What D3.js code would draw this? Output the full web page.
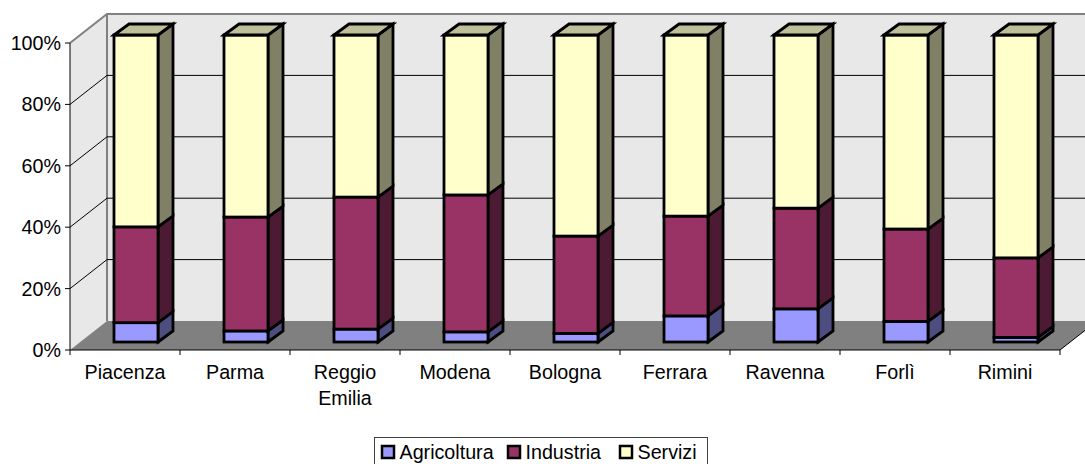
<!DOCTYPE html>
<html>
<head>
<meta charset="utf-8">
<script src="https://d3js.org/d3.v7.min.js"></script>
<style>
html, body { margin: 0; padding: 0; background: #fff; overflow: hidden; }
svg { display: block; }
text { font-family: "Liberation Sans", Arial, sans-serif; font-size: 19.7px; fill: #000; }
</style>
</head>
<body>
<svg id="chart" width="1085" height="464"></svg>
<script>
var CATEGORIES = ["Piacenza", "Parma", "Reggio Emilia", "Modena", "Bologna", "Ferrara", "Ravenna", "Forlì", "Rimini"];
var AGRICOLTURA = [6.3, 3.6, 4.2, 3.3, 2.8, 8.5, 10.8, 6.7, 1.5];
var INDUSTRIA = [31.2, 37.1, 43.0, 44.6, 31.7, 32.5, 32.8, 30.1, 25.9];
var SERVIZI = [62.5, 59.3, 52.8, 52.1, 65.5, 59.0, 56.4, 63.2, 72.6];
var SERIES = ["Agricoltura", "Industria", "Servizi"];
var TICKS = [0, 20, 40, 60, 80, 100];

var FRONT = { "Agricoltura": "#9999ff", "Industria": "#993366", "Servizi": "#ffffcc" };
var SIDE = { "Agricoltura": "#4d4d80", "Industria": "#4d1a33", "Servizi": "#808066" };
var TOP = "#bfbf99";

var svg = d3.select("#chart");

// front plane of the 3d box
var left = 70, right = 1060, top0 = 43, bottom = 350;
// depth of the box, and how far the bars sit inside it
var depthX = 37, depthY = 29;
var barDX = 11, barDY = 8, sideDX = 15, sideDY = 11;

var x = d3.scaleBand().domain(CATEGORIES).range([left, right]).paddingInner(0.6).paddingOuter(0.3);
var y = d3.scaleLinear().domain([0, 100]).range([bottom, top0]);

function pts(a) {
    return a.map(function(p) { return p.join(","); }).join(" ");
}

var wall = svg.append("g");
// side wall
wall.append("polygon")
    .attr("points", pts([[left, y(100)], [left + depthX, y(100) - depthY], [left + depthX, bottom - depthY], [left, bottom]]))
    .attr("fill", "#e8e8e8");
// back wall
wall.append("rect")
    .attr("x", left + depthX).attr("y", y(100) - depthY)
    .attr("width", 1085 - left - depthX).attr("height", bottom - y(100))
    .attr("fill", "#e8e8e8");
// floor
wall.append("polygon")
    .attr("points", pts([[left, bottom], [right, bottom], [right + depthX, bottom - depthY], [left + depthX, bottom - depthY]]))
    .attr("fill", "#808080");

// gray wall edges
wall.append("path")
    .attr("d", "M" + left + "," + y(100) + "L" + (left + depthX) + "," + (y(100) - depthY) + "H1085")
    .attr("fill", "none").attr("stroke", "#808080").attr("stroke-width", 2);
wall.append("line")
    .attr("x1", left + depthX).attr("x2", left + depthX)
    .attr("y1", y(100) - depthY).attr("y2", bottom - depthY)
    .attr("stroke", "#808080").attr("stroke-width", 2);

// gridlines
var grid = wall.selectAll(".grid").data(TICKS.slice(1, 5)).enter().append("g");
grid.append("path")
    .attr("d", function(d) {
        return "M" + left + "," + y(d) + "L" + (left + depthX) + "," + (y(d) - depthY) + "H1085";
    })
    .attr("fill", "none").attr("stroke", "#000").attr("stroke-width", 1);

// bars
var table = CATEGORIES.map(function(c, i) {
    return { cat: c, Agricoltura: AGRICOLTURA[i], Industria: INDUSTRIA[i], Servizi: SERVIZI[i] };
});
var stacked = d3.stack().keys(SERIES)(table);

var bars = svg.append("g").attr("stroke", "#000").attr("stroke-width", 2.8).attr("stroke-linejoin", "miter");
var barH = d3.scaleLinear().domain([0, 100]).range([bottom - barDY, top0 - barDY]);

CATEGORIES.forEach(function(c, i) {
    var x0 = x(c) + barDX, x1 = x0 + x.bandwidth();
    stacked.forEach(function(s) {
        var y0 = barH(s[i][0]), y1 = barH(s[i][1]);
        bars.append("polygon")
            .attr("points", pts([[x1, y0], [x1 + sideDX, y0 - sideDY], [x1 + sideDX, y1 - sideDY], [x1, y1]]))
            .attr("fill", SIDE[s.key]);
        bars.append("rect")
            .attr("x", x0).attr("y", y1)
            .attr("width", x1 - x0).attr("height", y0 - y1)
            .attr("fill", FRONT[s.key]);
    });
    var yt = barH(100);
    bars.append("polygon")
        .attr("points", pts([[x0, yt], [x0 + sideDX, yt - sideDY], [x1 + sideDX, yt - sideDY], [x1, yt]]))
        .attr("fill", TOP);
});

// axes
var axis = svg.append("g");
axis.append("line")
    .attr("x1", left).attr("x2", left).attr("y1", y(100)).attr("y2", bottom)
    .attr("stroke", "#000");
axis.append("path")
    .attr("d", "M" + left + "," + bottom + "H" + right + "L1085," + (bottom - 25 * depthY / depthX))
    .attr("fill", "none").attr("stroke", "#000");

axis.selectAll(".ytick").data(TICKS).enter().append("line")
    .attr("x1", left - 5).attr("x2", left)
    .attr("y1", function(d) { return y(d); }).attr("y2", function(d) { return y(d); })
    .attr("stroke", "#000");
axis.selectAll(".ylabel").data(TICKS).enter().append("text")
    .attr("x", left - 9)
    .attr("y", function(d) { return y(d) + 7; })
    .attr("text-anchor", "end")
    .text(function(d) { return d + "%"; });

var step = x.step();
axis.selectAll(".xtick").data(d3.range(CATEGORIES.length + 1)).enter().append("line")
    .attr("x1", function(d) { return left + d * step; })
    .attr("x2", function(d) { return left + d * step; })
    .attr("y1", bottom).attr("y2", bottom + 5)
    .attr("stroke", "#000");

var labels = axis.selectAll(".xlabel").data(CATEGORIES).enter().append("text")
    .attr("text-anchor", "middle")
    .attr("y", 379);
labels.selectAll("tspan")
    .data(function(d) {
        return d.split(" ").map(function(w) { return { word: w, cat: d }; });
    })
    .enter().append("tspan")
    .attr("x", function(d) { return x(d.cat) + x.bandwidth() / 2; })
    .attr("dy", function(d, i) { return i ? 26 : 0; })
    .text(function(d) { return d.word; });

// legend
var legend = svg.append("g");
legend.append("rect")
    .attr("x", 374.5).attr("y", 437.5).attr("width", 333).attr("height", 30)
    .attr("fill", "#fff").attr("stroke", "#404040");
var legendX = [382, 508, 620];
SERIES.forEach(function(s, i) {
    legend.append("rect")
        .attr("x", legendX[i]).attr("y", 446).attr("width", 12).attr("height", 12)
        .attr("fill", FRONT[s]).attr("stroke", "#000").attr("stroke-width", 2.5);
    legend.append("text")
        .attr("x", legendX[i] + 17.5).attr("y", 459).text(s);
});
</script>
</body>
</html>
